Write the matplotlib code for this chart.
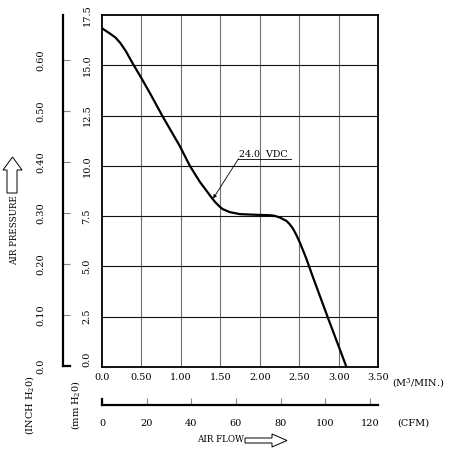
import matplotlib
matplotlib.use("Agg")
import matplotlib.pyplot as plt
import matplotlib.transforms as mtransforms
from matplotlib.patches import Polygon

plt.rcParams['font.family'] = ['DejaVu Serif']
plt.rcParams['mathtext.fontset'] = 'dejavuserif'

# ---- data ----
flow_m3min = [0.00, 0.10, 0.17, 0.23, 0.30, 0.354, 0.40, 0.50, 0.61, 0.763, 0.987,
              1.114, 1.24, 1.367, 1.43, 1.49, 1.53, 1.62, 1.75, 1.87, 2.00, 2.10, 2.17,
              2.21, 2.25, 2.29, 2.34, 2.38, 2.42, 2.46, 2.51, 2.59, 2.67, 2.86, 3.10]
pressure_mm = [16.84, 16.58, 16.38, 16.12, 15.72, 15.34, 15.02, 14.36, 13.60, 12.50, 10.98,
               10.00, 9.21, 8.54, 8.22, 7.98, 7.85, 7.70, 7.60, 7.58, 7.56, 7.55, 7.53,
               7.49, 7.44, 7.36, 7.26, 7.10, 6.89, 6.60, 6.18, 5.40, 4.52, 2.50, 0.00]

x_ticks = [0.0, 0.5, 1.0, 1.5, 2.0, 2.5, 3.0, 3.5]
x_labels = ["0.0", "0.50", "1.00", "1.50", "2.00", "2.50", "3.00", "3.50"]
y_ticks = [0.0, 2.5, 5.0, 7.5, 10.0, 12.5, 15.0, 17.5]
y_labels = ["0.0", "2.5", "5.0", "7.5", "10.0", "12.5", "15.0", "17.5"]
inch_ticks = [0.0, 0.10, 0.20, 0.30, 0.40, 0.50, 0.60]
inch_labels = ["0.0", "0.10", "0.20", "0.30", "0.40", "0.50", "0.60"]
cfm_ticks = [0, 20, 40, 60, 80, 100, 120]
cfm_labels = ["0", "20", "40", "60", "80", "100", "120"]
curve_label = "24.0  VDC"

X_MAX, Y_MAX = 3.5, 17.5
M3MIN_TO_CFM = 35.315
MM_PER_INCH = 25.4

W, H = 451, 450
fig = plt.figure(figsize=(W / 100, H / 100), dpi=100)

def px_rect(x0, y0, x1, y1):
    return [x0 / W, 1 - y1 / H, (x1 - x0) / W, (y1 - y0) / H]

FS = 7

# ---- main axes ----
ax = fig.add_axes(px_rect(102, 15, 378, 367))
ax.plot(flow_m3min, pressure_mm, color='black', lw=1.6, solid_capstyle='round',
        solid_joinstyle='round', zorder=3)
ax.set_xlim(0, X_MAX)
ax.set_ylim(0, Y_MAX)
ax.set_xticks(x_ticks)
ax.set_xticklabels(x_labels, fontsize=FS)
ax.set_yticks(y_ticks)
ax.set_yticklabels(y_labels, fontsize=FS, rotation=90, va='center')
ax.tick_params(axis='both', length=0)
ax.tick_params(axis='x', pad=4.5)
ax.tick_params(axis='y', pad=7.5)
for x in x_ticks[1:-1]:
    ax.axvline(x, color='#707070', lw=0.8, zorder=1)
for y in y_ticks[1:-1]:
    ax.axhline(y, color='#111111', lw=0.8, zorder=1)
for s in ax.spines.values():
    s.set_linewidth(1.3)
# shift the 0.0 y label up a bit
lab0 = ax.get_yticklabels()[0]
lab0.set_transform(lab0.get_transform() + mtransforms.ScaledTranslation(0, 8 / 100, fig.dpi_scale_trans))

# annotation
ax.annotate(curve_label, xy=(1.41, 8.38), xytext=(2.04, 10.58), fontsize=6.8,
            ha='center', va='center',
            arrowprops=dict(arrowstyle='-|>', color='black', lw=0.6,
                            mutation_scale=5, shrinkA=0, shrinkB=0,
                            patchA=None, relpos=(0, 0)))
ax.plot([1.72, 2.40], [10.32, 10.32], color='black', lw=0.6, zorder=3)

# ---- inch axis ----
axi = fig.add_axes(px_rect(63, 15, 70, 366))
axi.set_ylim(0, Y_MAX / MM_PER_INCH)
axi.set_xlim(0, 1)
axi.set_yticks(inch_ticks)
axi.set_yticklabels(inch_labels, fontsize=FS, rotation=90, va='center')
axi.set_xticks([])
axi.tick_params(axis='y', direction='in', length=5, width=0.8, color='#888888', pad=12.5)
axi.spines['top'].set_visible(False)
axi.spines['right'].set_visible(False)
axi.spines['left'].set_linewidth(1.6)
axi.spines['bottom'].set_linewidth(1.6)
axi.patch.set_visible(False)

# ---- CFM axis ----
axc = fig.add_axes(px_rect(102, 399, 378, 405))
axc.set_xlim(0, X_MAX * M3MIN_TO_CFM)
axc.set_ylim(0, 1)
axc.set_xticks(cfm_ticks)
axc.set_xticklabels(cfm_labels, fontsize=FS)
axc.set_yticks([])
axc.tick_params(axis='x', direction='in', length=5, width=0.8, color='#888888', pad=10)
axc.spines['top'].set_visible(False)
axc.spines['right'].set_visible(False)
axc.spines['left'].set_linewidth(1.6)
axc.spines['bottom'].set_linewidth(1.6)
axc.patch.set_visible(False)

# ---- free texts ----
def ftext(x, y, s, **kw):
    fig.text(x / W, 1 - y / H, s, **kw)

ftext(392, 383, "(M$^3$/MIN.)", fontsize=FS, ha='left', va='center')
ftext(397, 423, "(CFM)", fontsize=FS, ha='left', va='center')
ftext(197, 440, "AIR FLOW", fontsize=6.3, ha='left', va='center')
ftext(14.5, 230, "AIR PRESSURE", fontsize=6.3, ha='center', va='center', rotation=90)
ftext(30, 405, "(INCH H$_2$0)", fontsize=FS, ha='center', va='center', rotation=90)
ftext(76, 405, "(mm H$_2$0)", fontsize=FS, ha='center', va='center', rotation=90)

def fpoly(pts):
    p = Polygon([(x / W, 1 - y / H) for x, y in pts], closed=True, fill=False,
                edgecolor='black', lw=0.7, transform=fig.transFigure)
    fig.add_artist(p)

# right arrow
fpoly([(245, 438), (272, 438), (272, 434), (287, 440.5), (272, 447), (272, 443), (245, 443)])
# up arrow
fpoly([(7, 193), (7, 170), (3, 170), (12.5, 157), (22, 170), (17, 170), (17, 193)])

fig.savefig("out.png", dpi=100)
